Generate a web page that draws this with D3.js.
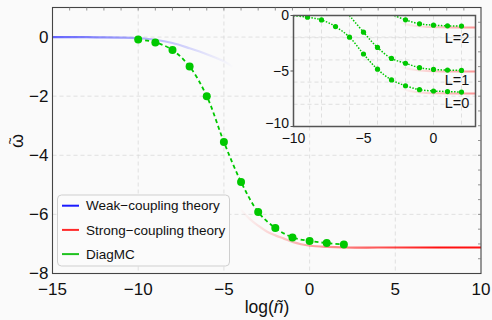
<!DOCTYPE html>
<html>
<head>
<meta charset="utf-8">
<script src="https://cdn.jsdelivr.net/npm/d3@7"></script>
<style>
  html, body { margin: 0; padding: 0; background: #fafafa; }
  text { font-family: "Liberation Sans", Arial, sans-serif; fill: #111; }
</style>
</head>
<body>
<svg id="chart" width="492" height="320"></svg>
<script>
// main panel data
let dmcX = [-10, -9, -8, -7, -6, -5, -4, -3, -2, -1, 0, 1, 2];
let dmcY = [-0.08, -0.18, -0.44, -1.0, -2.0, -3.55, -4.9, -5.92, -6.46, -6.78, -6.9, -6.97, -7.02];

let weakX = [-15, -14, -13, -12, -11, -10, -9, -8, -7, -6, -5, -4.5];
let weakY = [0, 0, -0.005, -0.01, -0.02, -0.04, -0.09, -0.2, -0.38, -0.58, -0.82, -1.0];

let strongX = [-4, -3.5, -3, -2.5, -2, -1.5, -1, -0.5, 0, 1, 2, 4, 6, 8, 10];
let strongY = [-5.85, -6.15, -6.38, -6.58, -6.71, -6.82, -6.93, -7.01, -7.06, -7.1, -7.12, -7.12, -7.12, -7.12, -7.12];

let xTicks = [-15, -10, -5, 0, 5, 10];
let yTicks = [-8, -6, -4, -2, 0];

// inset data
let inX = [-9, -8, -7, -6, -5, -4, -3, -2, -1, 0, 1, 2];
let inL0 = [-0.15, -0.4, -1.0, -1.95, -3.47, -4.84, -5.8, -6.33, -6.68, -6.8, -6.85, -6.9];
let inL1X = [-5, -4, -3, -2, -1, 0, 1, 2];
let inL1 = [-1.5, -2.88, -3.87, -4.3, -4.7, -4.86, -4.92, -4.95];
let inL2X = [-2, -1, 0, 1, 2];
let inL2 = [-0.39, -0.75, -0.87, -0.93, -0.95];
let inStart = [[-10, -0.02], [-6, 0], [-2.8, 0]];   // where each fitted line leaves the top

let inRedX = [-2.5, -2, -1.5, -1, -0.5, 0, 1, 2, 3];
let inRedL0 = [-6.45, -6.7, -6.85, -6.93, -6.98, -7.0, -7.02, -7.03, -7.03];
let inRedL1 = [-4.55, -4.75, -4.87, -4.95, -5.0, -5.02, -5.04, -5.05, -5.05];
let inRedL2 = [-0.6, -0.78, -0.9, -0.98, -1.03, -1.05, -1.07, -1.08, -1.08];

let inXTicks = [-10, -5, 0];
let inYTicks = [-10, -5, 0];
let inGridX = [-8, -6, -4, -2, 0, 2];
let inGridY = [-8, -6, -4, -2];
let lLabels = ['L=2', 'L=1', 'L=0'];
let lLabelY = [-2.0, -5.8, -7.9];

let legendNames = ['Weak\u2212coupling theory', 'Strong\u2212coupling theory', 'DiagMC'];
let legendColors = ['#1a1aff', '#ff2a2a', '#1fc21f'];

const green = '#00c800';

let svg = d3.select('#chart');
let defs = svg.append('defs');

let x = d3.scaleLinear().domain([-15, 10]).range([52.5, 481]);
let y = d3.scaleLinear().domain([-8, 1]).range([273.5, 7.5]);

defs.append('clipPath').attr('id', 'clipMain')
  .append('rect').attr('x', 52.5).attr('y', 7.5).attr('width', 428.5).attr('height', 266);

// grid
let grid = svg.append('g');
grid.selectAll('line.gx').data(xTicks.slice(1, -1)).join('line')
  .attr('x1', d => x(d)).attr('x2', d => x(d)).attr('y1', 7.5).attr('y2', 273.5)
  .attr('stroke', '#d9d9d9').attr('stroke-dasharray', '4,3').attr('stroke-width', 0.8);
grid.selectAll('line.gy').data(yTicks.slice(1)).join('line')
  .attr('y1', d => y(d)).attr('y2', d => y(d)).attr('x1', 52.5).attr('x2', 481)
  .attr('stroke', '#d9d9d9').attr('stroke-dasharray', '4,3').attr('stroke-width', 0.8);

// gradients for fading theory curves
function fadeGrad(id, color, x1, x2, o1, o2) {
  let g = defs.append('linearGradient').attr('id', id)
    .attr('gradientUnits', 'userSpaceOnUse')
    .attr('x1', x1).attr('x2', x2).attr('y1', 0).attr('y2', 0);
  g.append('stop').attr('offset', 0).attr('stop-color', color).attr('stop-opacity', o1);
  g.append('stop').attr('offset', 1).attr('stop-color', color).attr('stop-opacity', o2);
}
fadeGrad('blueFade', '#4a4aff', x(-15), x(-4.4), 0.85, 0);
fadeGrad('redFade', '#ff1010', x(-4.2), x(7.5), 0, 1);

let line = d3.line().x(d => x(d[0])).y(d => y(d[1])).curve(d3.curveCatmullRom);
let main = svg.append('g').attr('clip-path', 'url(#clipMain)');

main.append('path').datum(d3.zip(weakX, weakY)).attr('d', line)
  .attr('fill', 'none').attr('stroke', 'url(#blueFade)').attr('stroke-width', 2.2);
main.append('path').datum(d3.zip(strongX, strongY)).attr('d', line)
  .attr('fill', 'none').attr('stroke', 'url(#redFade)').attr('stroke-width', 2.2);

let dmc = d3.zip(dmcX, dmcY);
main.append('path').datum(dmc).attr('d', line)
  .attr('fill', 'none').attr('stroke', green).attr('stroke-width', 1.8).attr('stroke-dasharray', '4,3');
main.selectAll('circle.dmc').data(dmc).join('circle')
  .attr('cx', d => x(d[0])).attr('cy', d => y(d[1])).attr('r', 4).attr('fill', green);

// frame and ticks
svg.append('rect').attr('x', 52.5).attr('y', 7.5).attr('width', 428.5).attr('height', 266)
  .attr('fill', 'none').attr('stroke', '#444').attr('stroke-width', 1.1);
svg.append('g').selectAll('line').data(d3.range(-14, 10)).join('line')
  .attr('x1', d => x(d)).attr('x2', d => x(d)).attr('y1', 7.5).attr('y2', 10.5)
  .attr('stroke', '#777').attr('stroke-width', 0.8);
svg.append('g').selectAll('line').data(d3.range(-7.5, 1, 0.5)).join('line')
  .attr('y1', d => y(d)).attr('y2', d => y(d)).attr('x1', 478).attr('x2', 481)
  .attr('stroke', '#777').attr('stroke-width', 0.8);

svg.append('g').selectAll('text').data(xTicks).join('text')
  .attr('x', d => x(d)).attr('y', 294.5).attr('text-anchor', 'middle')
  .style('font-size', '17px').text(d => d3.format('d')(d).replace('-', '\u2212'));
svg.append('g').selectAll('text').data(yTicks).join('text')
  .attr('x', 48.5).attr('y', d => y(d)).attr('dy', '0.34em').attr('text-anchor', 'end')
  .style('font-size', '17px').text(d => d3.format('d')(d).replace('-', '\u2212'));

svg.append('text').attr('x', 267).attr('y', 313).attr('text-anchor', 'middle')
  .style('font-size', '17.5px').html('log(<tspan font-style="italic">\u00f1</tspan>)');
// y label: omega with a tilde set above it, turned on its side
let yl = svg.append('g').attr('transform', 'translate(23,141) rotate(-90)');
yl.append('text').attr('text-anchor', 'middle').style('font-size', '18px').text('\u03c9');
yl.append('text').attr('text-anchor', 'middle').attr('y', -9).style('font-size', '12px').text('~');

// legend
let leg = svg.append('g');
leg.append('rect').attr('x', 57.5).attr('y', 195).attr('width', 172).attr('height', 71).attr('rx', 4)
  .attr('fill', '#fbfbfb').attr('stroke', '#cfcfcf').attr('stroke-width', 1);
let rows = leg.selectAll('g.row').data(legendNames).join('g')
  .attr('transform', (d, i) => `translate(0,${205.7 + i * 24.2})`);
rows.append('line').attr('x1', 62).attr('x2', 79).attr('y1', 0).attr('y2', 0)
  .attr('stroke', (d, i) => legendColors[i]).attr('stroke-width', 2);
rows.append('text').attr('x', 86).attr('y', 0).attr('dy', '0.35em')
  .style('font-size', '13.5px').text(d => d);

// inset
let ix = d3.scaleLinear().domain([-10, 3]).range([293.5, 475.5]);
let iy = d3.scaleLinear().domain([-10, 0]).range([126.5, 15.5]);
defs.append('clipPath').attr('id', 'clipInset')
  .append('rect').attr('x', 293.5).attr('y', 15.5).attr('width', 182).attr('height', 111);

let ig = svg.append('g');
ig.selectAll('line.gx').data(inGridX).join('line')
  .attr('x1', d => ix(d)).attr('x2', d => ix(d)).attr('y1', 15.5).attr('y2', 126.5)
  .attr('stroke', '#d9d9d9').attr('stroke-dasharray', '4,3').attr('stroke-width', 0.8);
ig.selectAll('line.gy').data(inGridY).join('line')
  .attr('y1', d => iy(d)).attr('y2', d => iy(d)).attr('x1', 293.5).attr('x2', 475.5)
  .attr('stroke', '#d9d9d9').attr('stroke-dasharray', '4,3').attr('stroke-width', 0.8);

fadeGrad('redFadeIn', '#ff3030', ix(-2.6), ix(3), 0, 0.5);
let iline = d3.line().x(d => ix(d[0])).y(d => iy(d[1])).curve(d3.curveCatmullRom);
let inner = svg.append('g').attr('clip-path', 'url(#clipInset)');

[inRedL0, inRedL1, inRedL2].forEach(function(vals) {
  inner.append('path').datum(d3.zip(inRedX, vals)).attr('d', iline)
    .attr('fill', 'none').attr('stroke', 'url(#redFadeIn)').attr('stroke-width', 2);
});

let sets = [d3.zip(inX, inL0), d3.zip(inL1X, inL1), d3.zip(inL2X, inL2)];
sets.forEach(function(pts, i) {
  inner.append('path').datum([inStart[i]].concat(pts)).attr('d', iline)
    .attr('fill', 'none').attr('stroke', green).attr('stroke-width', 1.5).attr('stroke-dasharray', '1.5,1.5');
  inner.selectAll('circle.s' + i).data(pts).join('circle')
    .attr('cx', d => ix(d[0])).attr('cy', d => iy(d[1])).attr('r', 2.6).attr('fill', green);
});

svg.append('rect').attr('x', 293.5).attr('y', 15.5).attr('width', 182).attr('height', 111)
  .attr('fill', 'none').attr('stroke', '#555').attr('stroke-width', 1.5);
svg.append('g').selectAll('line').data(inYTicks).join('line')
  .attr('x1', 290.5).attr('x2', 293.5).attr('y1', d => iy(d)).attr('y2', d => iy(d))
  .attr('stroke', '#555').attr('stroke-width', 1);

svg.append('g').selectAll('text').data(inXTicks).join('text')
  .attr('x', d => ix(d)).attr('y', 143).attr('text-anchor', 'middle')
  .style('font-size', '14px').text(d => d3.format('d')(d).replace('-', '\u2212'));
svg.append('g').selectAll('text').data(inYTicks).join('text')
  .attr('x', 289).attr('y', (d, i) => iy(d) - (i === 0 ? 3 : 0)).attr('dy', '0.35em').attr('text-anchor', 'end')
  .style('font-size', '14px').text(d => d3.format('d')(d).replace('-', '\u2212'));

svg.append('g').selectAll('text').data(lLabels).join('text')
  .attr('x', 457).attr('y', (d, i) => iy(lLabelY[i])).attr('dy', '0.35em').attr('text-anchor', 'middle')
  .style('font-size', '14.5px').text(d => d);
</script>
</body>
</html>
